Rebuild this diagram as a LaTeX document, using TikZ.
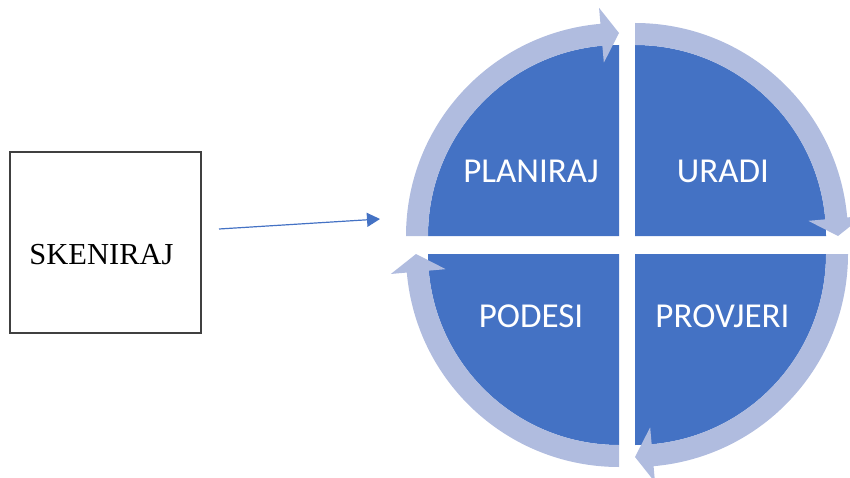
\documentclass[tikz,border=0pt]{standalone}
\usepackage{fontspec}
\setmainfont{Liberation Serif}
\newfontfamily\calib{Carlito}
\usetikzlibrary{arrows.meta,calc}
\definecolor{qblue}{RGB}{68,114,196}
\definecolor{ringblue}{RGB}{176,188,223}
\definecolor{boxgray}{RGB}{64,64,64}
\tikzset{
  quad/.style={fill=qblue, draw=none},
  ring/.style={fill=ringblue, draw=none},
  qlabel/.style={anchor=base, text=white, font=\calib\fontsize{35}{38}\selectfont, inner sep=0pt},
  scanbox/.style={draw=boxgray, line width=1.2pt, minimum width=191pt, minimum height=181pt, inner sep=0pt},
  scantext/.style={anchor=base, font=\fontsize{30.5}{34}\selectfont, inner sep=0pt},
  flow/.style={draw=qblue, line width=1.2pt, -{Triangle[length=13pt,width=14pt]}}
}
\begin{document}
\begin{tikzpicture}[x=1pt,y=1pt]
\useasboundingbox (0,0) rectangle (850,477);
% centres of the four quadrants
\coordinate (ctl) at (619,241);
\coordinate (ctr) at (635,241);
\coordinate (cbl) at (619,223);
\coordinate (cbr) at (635,223);
% blue quadrants
\fill[quad] (ctl) -- ++(180:191) arc[start angle=180,end angle=90,radius=191] -- cycle;
\fill[quad] (ctr) -- ++(90:191) arc[start angle=90,end angle=0,radius=191] -- cycle;
\fill[quad] (cbr) -- ++(0:191) arc[start angle=0,end angle=-90,radius=191] -- cycle;
\fill[quad] (cbl) -- ++(270:191) arc[start angle=270,end angle=180,radius=191] -- cycle;
% ring arrows
\fill[ring] ($(ctl)+(180:191)$) -- ($(ctl)+(180:213)$) arc[start angle=180,end angle=95,radius=213]
  -- ($(ctl)+(95:229)$) -- ($(ctl)+(90:203)$) -- ($(ctl)+(95:174)$) -- ($(ctl)+(95:191)$)
  arc[start angle=95,end angle=180,radius=191] -- cycle;
\fill[ring] ($(ctr)+(90:191)$) -- ($(ctr)+(90:213)$) arc[start angle=90,end angle=5,radius=213]
  -- ($(ctr)+(5:229)$) -- ($(ctr)+(0:203)$) -- ($(ctr)+(5:174)$) -- ($(ctr)+(5:191)$)
  arc[start angle=5,end angle=90,radius=191] -- cycle;
\fill[ring] ($(cbr)+(0:191)$) -- ($(cbr)+(0:213)$) arc[start angle=0,end angle=-85,radius=213]
  -- ($(cbr)+(-85:229)$) -- ($(cbr)+(-90:203)$) -- ($(cbr)+(-85:174)$) -- ($(cbr)+(-85:191)$)
  arc[start angle=-85,end angle=0,radius=191] -- cycle;
\fill[ring] ($(cbl)+(270:191)$) -- ($(cbl)+(270:213)$) arc[start angle=270,end angle=185,radius=213]
  -- ($(cbl)+(185:229)$) -- ($(cbl)+(180:203)$) -- ($(cbl)+(185:174)$) -- ($(cbl)+(185:191)$)
  arc[start angle=185,end angle=270,radius=191] -- cycle;
% labels
\node[qlabel] (plan) at (531,294) {PLANIRAJ};
\node[qlabel] (urad) at (723,294) {URADI};
\node[qlabel] (pod) at (531,150) {PODESI};
\node[qlabel] (prov) at (722.5,150) {PROVJERI};
% scan box
\node[scanbox] (box) at (105.5,234.5) {};
\node[scantext] (sk) at (101.5,213) {SKENIRAJ};
% arrow
\coordinate (astart) at (219,248);
\coordinate (aend) at (380,258);
\draw[flow] (astart) -- (aend);
\end{tikzpicture}
\end{document}
